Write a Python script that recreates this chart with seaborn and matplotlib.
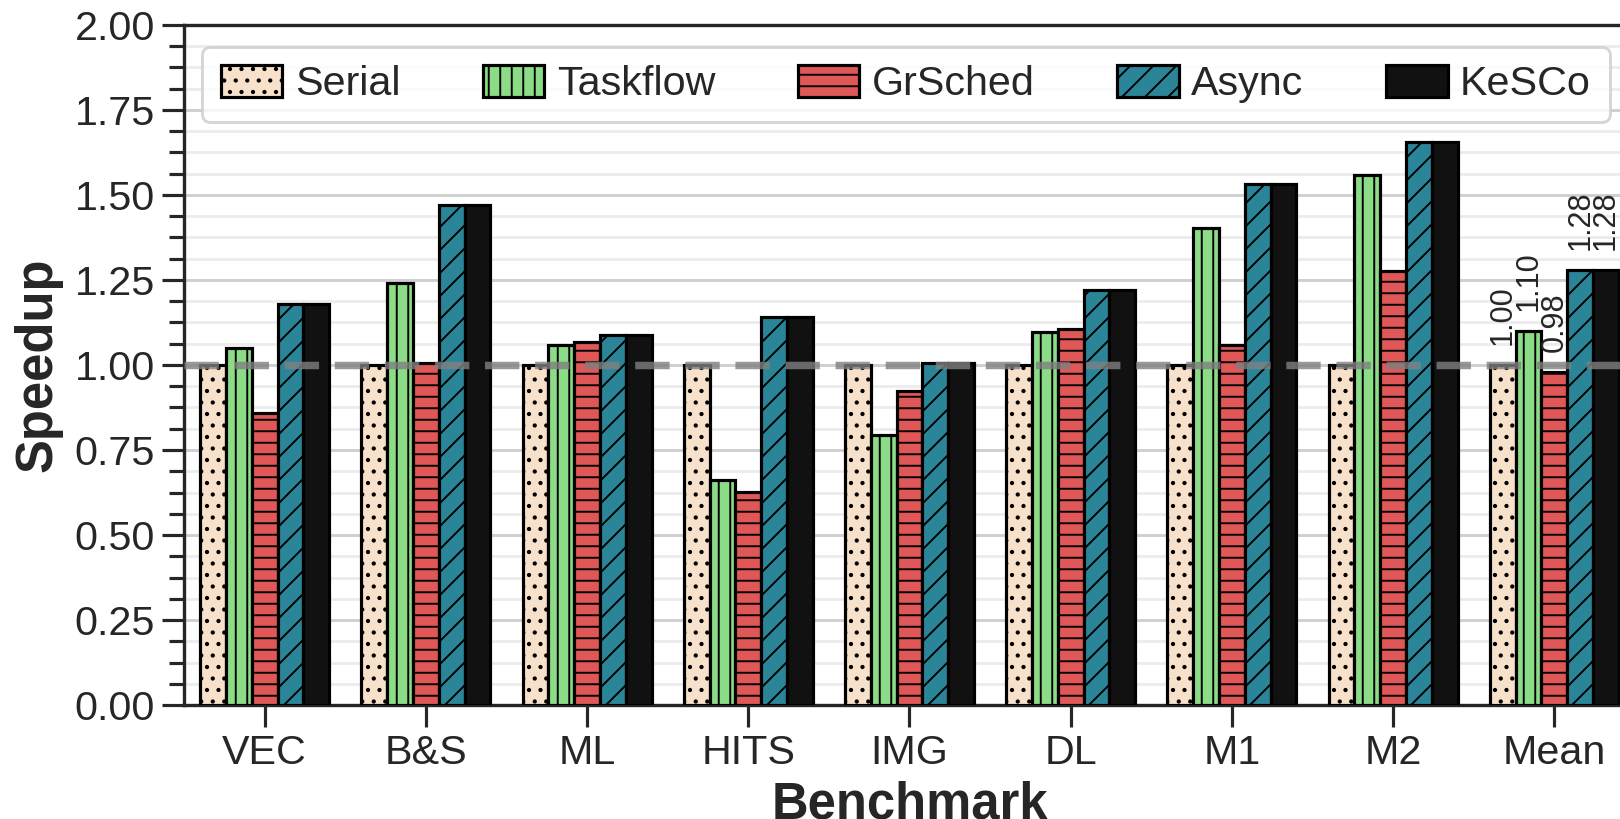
import numpy as np
import pandas as pd
import matplotlib
matplotlib.use("Agg")
import matplotlib.pyplot as plt
from matplotlib.ticker import AutoMinorLocator, FormatStrFormatter
import seaborn as sns

# Benchmarks and scheduling approaches
benchmarks = ["VEC", "B&S", "ML", "HITS", "IMG", "DL", "M1", "M2", "Mean"]
methods = ["Serial", "Taskflow", "GrSched", "Async", "KeSCo"]

# Speedup over the serial baseline
serial   = [1.00, 1.00, 1.00, 1.00, 1.00, 1.00, 1.00, 1.00, 1.00]
taskflow = [1.049, 1.242, 1.060, 0.662, 0.794, 1.098, 1.402, 1.559, 1.10]
grsched  = [0.858, 1.006, 1.069, 0.626, 0.924, 1.105, 1.058, 1.276, 0.98]
async_   = [1.178, 1.470, 1.089, 1.140, 1.007, 1.220, 1.532, 1.657, 1.28]
kesco    = [1.180, 1.470, 1.089, 1.140, 1.005, 1.220, 1.532, 1.657, 1.28]

colors = ["#F7E1CA", "#8CDB87", "#E05757", "#2B8599", "#111111"]
hatches = [".", "|", "-", "/", ""]

series = [serial, taskflow, grsched, async_, kesco]
df = pd.DataFrame(
    [(b, m, v) for m, vals in zip(methods, series) for b, v in zip(benchmarks, vals)],
    columns=["Benchmark", "Method", "Speedup"],
)

sns.set_theme(style="ticks")
plt.rcParams["font.family"] = ["Liberation Sans", "DejaVu Sans"]
plt.rcParams["hatch.linewidth"] = 2.0
plt.rcParams["hatch.color"] = "black"
text_color = "#262626"

DPI = 69
fig = plt.figure(figsize=(1620 / DPI, 819 / DPI), dpi=DPI)
ax = fig.add_axes([184 / 1620, 114 / 819, 1451 / 1620, 680 / 819])

sns.barplot(
    data=df, x="Benchmark", y="Speedup", hue="Method",
    order=benchmarks, hue_order=methods, palette=colors,
    saturation=1, width=0.8, edgecolor="black", linewidth=3.3,
    errorbar=None, legend=False, ax=ax,
)

for container, hatch in zip(ax.containers, hatches):
    for patch in container:
        patch.set_hatch(hatch)
        patch.set_zorder(3)

# Baseline at speedup 1.0
ax.axhline(1.0, color="gray", lw=7.8, alpha=0.8, ls=(0, (4.6, 2.1)), zorder=6)

# Value labels on the Mean group
n = len(benchmarks)
for container, vals in zip(ax.containers, series):
    labels = [""] * (n - 1) + [f"{vals[-1]:.2f}"]
    ax.bar_label(container, labels=labels, rotation=90, padding=21,
                 fontsize=32, color=text_color, zorder=7)

ax.set_xlim(-0.5, n - 0.5)
ax.set_ylim(0, 2)
ax.set_yticks(np.arange(0, 2.01, 0.25))
ax.yaxis.set_major_formatter(FormatStrFormatter("%.2f"))
ax.yaxis.set_minor_locator(AutoMinorLocator(4))

ax.set_axisbelow(True)
ax.grid(which="major", axis="y", color="#cfcfcf", lw=3)
ax.grid(which="minor", axis="y", color="#ececec", lw=3)
ax.grid(which="major", axis="x", visible=False)

ax.tick_params(axis="both", which="major", length=23, width=3.3, pad=7,
               labelsize=43, color=text_color, labelcolor=text_color)
ax.tick_params(axis="y", which="minor", length=16, width=3.3, color=text_color)
for sp in ax.spines.values():
    sp.set_linewidth(3.5)
    sp.set_color(text_color)

ax.set_xlabel("Benchmark", fontsize=53, fontweight="bold", color=text_color, labelpad=9)
ax.set_ylabel("Speedup", fontsize=53, fontweight="bold", color=text_color, labelpad=13)

handles = [c[0] for c in ax.containers]
leg = ax.legend(
    handles, methods, ncol=5, loc="upper left",
    bbox_to_anchor=(202 / 1620, 1 - 46.5 / 819), bbox_transform=fig.transFigure,
    borderaxespad=0, frameon=True, fancybox=True, framealpha=0.8,
    edgecolor="#cccccc", fontsize=43, handlelength=1.5, handleheight=0.8,
    handletextpad=0.3, columnspacing=2.0, borderpad=0.45,
)
leg.get_frame().set_linewidth(3)
for t in leg.get_texts():
    t.set_color(text_color)
leg.set_zorder(10)

fig.savefig("out.png", dpi=DPI)
